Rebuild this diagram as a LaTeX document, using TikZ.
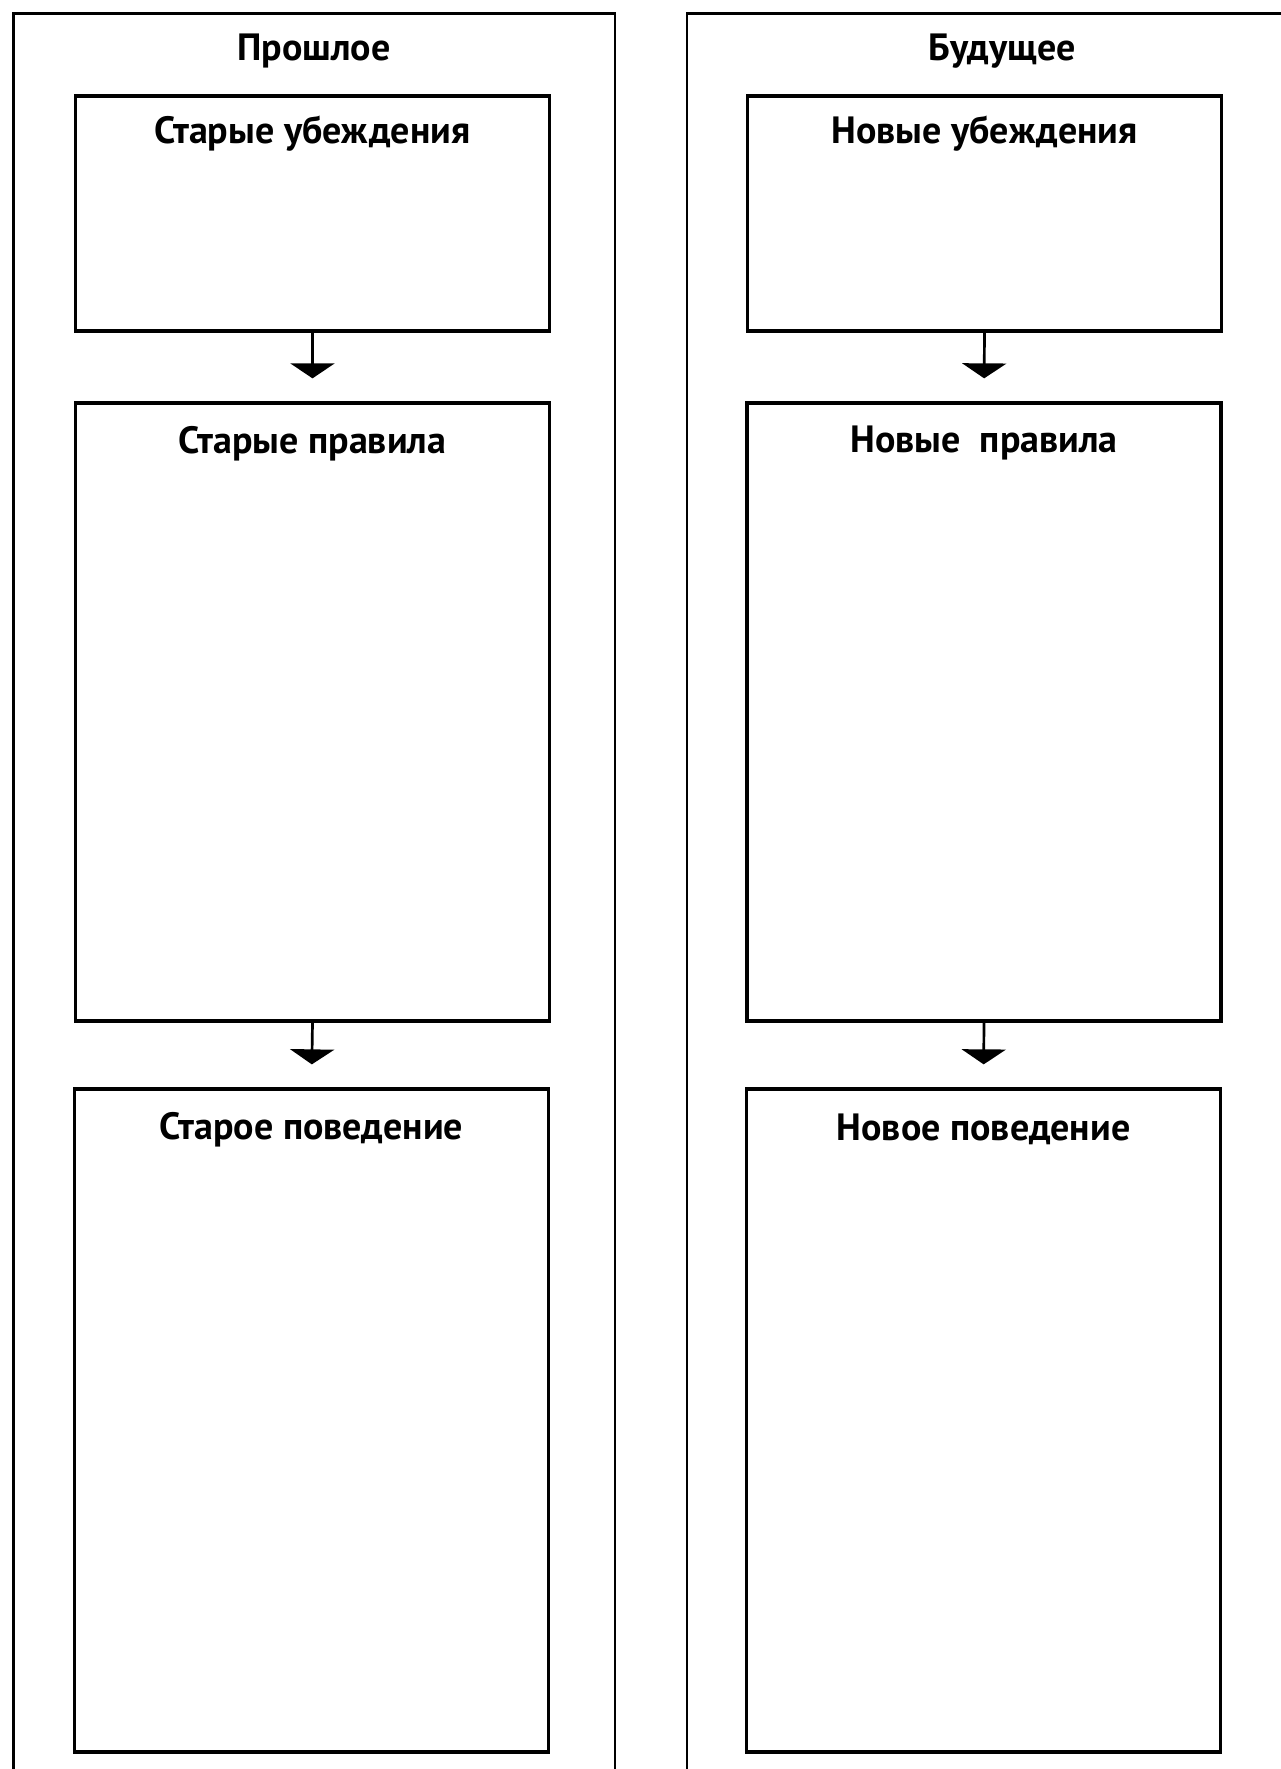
\documentclass[tikz,border=0pt]{standalone}
\usepackage{fontspec}
\setmainfont{PT Sans}
\usetikzlibrary{arrows.meta}

\tikzset{
  frame/.style={line width=1.2pt},
  cell/.style={draw, line width=1.65pt, minimum width=237pt, inner sep=0pt},
  head/.style={font=\bfseries\fontsize{19}{22}\selectfont, inner sep=0.75pt},
  flow/.style={line width=1.35pt, -{Triangle[width=22pt,length=7.5pt]}, shorten >=11.5pt}
}

\begin{document}
\begin{tikzpicture}[x=0.5pt,y=0.5pt,yscale=-1,xscale=1]
\useasboundingbox (0,0) rectangle (1281,1769);

%Frames (open at the bottom / right)
\draw [frame] (13.5,1769) -- (13.5,13.5) -- (615,13.5) -- (615,1769) ;
\draw [frame] (687,1769) -- (687,13.5) -- (1281,13.5) ;

% Text Node
\node [head] (past) at (314,51) {Прошлое};
% Text Node
\node [head] (future) at (1002,51) {Будущее};

%Boxes: past
\node [cell, minimum height=117.5pt] (oldbel) at (312.5,213.5) {};
\node [cell, minimum height=309pt] (oldrul) at (312.5,712) {};
\node [cell, minimum height=331.5pt] (oldbeh) at (311.5,1420.5) {};
%Boxes: future
\node [cell, minimum height=117.5pt] (newbel) at (984.5,213.5) {};
\node [cell, minimum height=309pt] (newrul) at (984,712) {};
\node [cell, minimum height=331.5pt] (newbeh) at (983.5,1420.5) {};

% Text Node
\node [head] (oldbelT) at ([yshift=19.5pt]oldbel.north) {Старые убеждения};
\node [head] (oldrulT) at ([yshift=21pt]oldrul.north) {Старые правила};
\node [head] (oldbehT) at ([yshift=21pt]oldbeh.north) {Старое поведение};
\node [head] (newbelT) at ([yshift=19.5pt]newbel.north) {Новые убеждения};
\node [head] (newrulT) at ([yshift=21pt]newrul.north) {Новые~ правила};
\node [head] (newbehT) at ([yshift=21pt]newbeh.north) {Новое поведение};

%Straight Lines
\draw [flow] (oldbel.south) -- (oldrul.north) ;
\draw [flow] (oldrul.south) -- (oldbeh.north) ;
\draw [flow] (newbel.south) -- (newrul.north) ;
\draw [flow] (newrul.south) -- (newbeh.north) ;

\end{tikzpicture}
\end{document}
